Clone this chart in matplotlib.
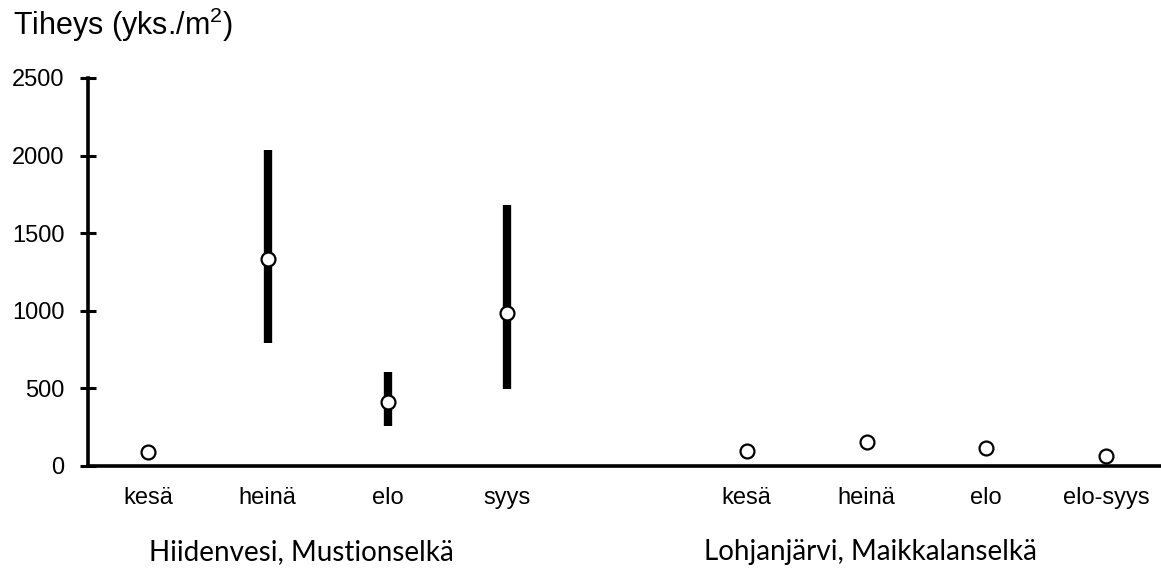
import matplotlib.pyplot as plt
import numpy as np

plt.rcParams['font.family'] = ['Liberation Sans', 'DejaVu Sans']
plt.rcParams['mathtext.fontset'] = 'custom'
plt.rcParams['mathtext.rm'] = 'Liberation Sans'

# Data
months = ["kesä", "heinä", "elo", "syys", "", "kesä", "heinä", "elo", "elo-syys"]
means = [90, 1335, 412, 988, np.nan, 97, 155, 116, 64]
low = [np.nan, 795, 258, 496, np.nan, np.nan, np.nan, np.nan, np.nan]
high = [np.nan, 2035, 606, 1683, np.nan, np.nan, np.nan, np.nan, np.nan]
groups = ["Hiidenvesi, Mustionselkä", "Lohjanjärvi, Maikkalanselkä"]
group_pos = [1.28, 6.03]
yticks = [0, 500, 1000, 1500, 2000, 2500]

x = np.arange(len(months))

fig = plt.figure(figsize=(11.61, 5.69), dpi=100)
ax = fig.add_axes([88 / 1161, 103 / 569, 1 - 88 / 1161, 388 / 569])

# range bars
ax.vlines(x, low, high, color="black", linewidth=6, zorder=2)
# mean markers
ax.plot(x, means, linestyle="none", marker="o", markersize=10,
        markerfacecolor="white", markeredgecolor="black", markeredgewidth=1.6,
        zorder=3, clip_on=False)

ax.set_xlim(-0.501, 8.459)
ax.set_ylim(0, 2500)
ax.set_yticks(yticks)
ax.set_xticks(x)
ax.set_xticklabels(months)
ax.tick_params(axis="y", direction="inout", length=12, width=2.2, labelsize=17, pad=11)
ax.tick_params(axis="x", length=0, labelsize=17, pad=15)

for side in ["top", "right"]:
    ax.spines[side].set_visible(False)
for side in ["left", "bottom"]:
    ax.spines[side].set_linewidth(2.6)

for name, pos in zip(groups, group_pos):
    ax.text(pos, -0.222, name, transform=ax.get_xaxis_transform(),
            ha="center", va="center", fontsize=20, family=["Lato", "DejaVu Sans"])

fig.text(13 / 1161, 1 - 25 / 569, r"Tiheys (yks./m$^{\mathregular{2}}$)",
         ha="left", va="center", fontsize=22)

fig.savefig("out.png", dpi=100)
